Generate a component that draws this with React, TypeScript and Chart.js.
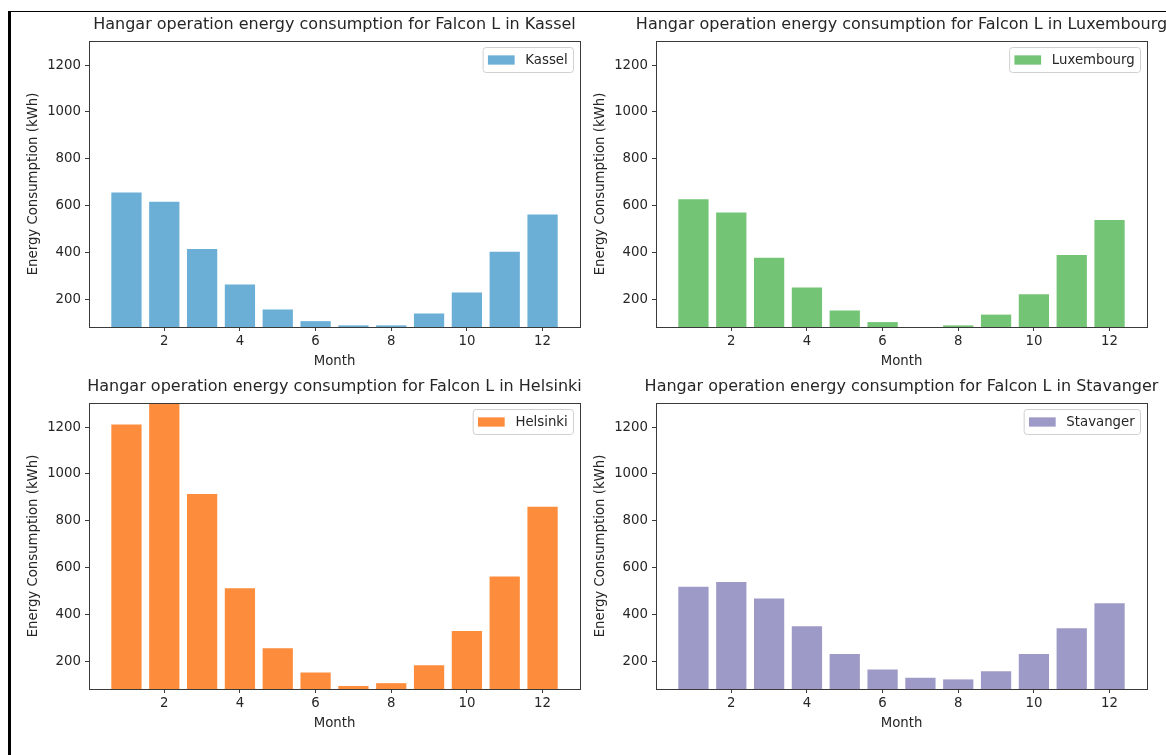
import React, { useEffect, useRef } from "react";
import { Chart, registerables } from "chart.js";

Chart.register(...registerables);

// ---------------- data ----------------
const months = [1, 2, 3, 4, 5, 6, 7, 8, 9, 10, 11, 12];
const kasselValues = [656, 616, 414, 263, 156, 106, 88, 88, 139, 228, 402, 562];
const luxembourgValues = [627, 570, 377, 250, 152, 102, 78, 88, 134, 221, 389, 538];
const helsinkiValues = [1211, 1360, 914, 512, 255, 152, 94, 106, 182, 329, 562, 860];
const stavangerValues = [518, 538, 468, 349, 231, 164, 129, 122, 157, 231, 341, 447];
const xTickValues = [2, 4, 6, 8, 10, 12];
const yTickValues = [200, 400, 600, 800, 1000, 1200];
const titlePrefix = "Hangar operation energy consumption for Falcon L in ";
const xAxisLabel = "Month";
const yAxisLabel = "Energy Consumption (kWh)";

// ---------------- layout / style ----------------
const W = 1166;
const H = 755;
const X_MIN = 0.01;
const X_MAX = 12.99;
const Y_MIN = 81;
const Y_MAX = 1303;
const FONT = '"DejaVu Sans", sans-serif';
const TEXT = "#262626";
const SPINE = "#3a3a3a";
const TICK_SIZE = 13.3;
const TITLE_SIZE = 16;
const Y_AXIS_W = 60;
const X_AXIS_H = 30;

type Area = { left: number; top: number; right: number; bottom: number };
type Panel = { city: string; values: number[]; color: string; area: Area };

const panels: Panel[] = [
  { city: "Kassel", values: kasselValues, color: "#6baed6", area: { left: 89, top: 41, right: 580, bottom: 327 } },
  { city: "Luxembourg", values: luxembourgValues, color: "#74c476", area: { left: 656, top: 41, right: 1147, bottom: 327 } },
  { city: "Helsinki", values: helsinkiValues, color: "#fd8d3c", area: { left: 89, top: 403, right: 580, bottom: 689 } },
  { city: "Stavanger", values: stavangerValues, color: "#9e9ac8", area: { left: 656, top: 403, right: 1147, bottom: 689 } },
];

function makeDecor(panel: Panel) {
  return {
    id: "decor_" + panel.city,
    afterDraw(chart: any) {
      const { ctx, chartArea: a } = chart;
      ctx.save();
      // spines (box)
      ctx.strokeStyle = SPINE;
      ctx.lineWidth = 1;
      ctx.strokeRect(Math.round(a.left) + 0.5, Math.round(a.top) + 0.5, Math.round(a.right - a.left), Math.round(a.bottom - a.top));

      // title
      ctx.fillStyle = TEXT;
      ctx.font = `${TITLE_SIZE}px ${FONT}`;
      ctx.textAlign = "center";
      ctx.textBaseline = "alphabetic";
      ctx.fillText(titlePrefix + panel.city, (a.left + a.right) / 2, a.top - 12.5);

      // x label
      ctx.font = `${TICK_SIZE}px ${FONT}`;
      ctx.fillText(xAxisLabel, (a.left + a.right) / 2, a.bottom + 38);

      // y label
      ctx.save();
      ctx.translate(a.left - 52, (a.top + a.bottom) / 2);
      ctx.rotate(-Math.PI / 2);
      ctx.textAlign = "center";
      ctx.fillText(yAxisLabel, 0, 0);
      ctx.restore();

      // legend
      ctx.font = `${TICK_SIZE}px ${FONT}`;
      const tw = ctx.measureText(panel.city).width;
      const padX = 5.3;
      const handleW = 26.7;
      const handleH = 9.3;
      const gap = 10.7;
      const boxW = padX + handleW + gap + tw + padX;
      const boxH = 25;
      const boxRight = a.right - 7;
      const boxLeft = boxRight - boxW;
      const boxTop = a.top + 6;
      ctx.beginPath();
      ctx.roundRect(boxLeft + 0.5, boxTop + 0.5, boxW, boxH, 3);
      ctx.fillStyle = "rgba(255,255,255,0.8)";
      ctx.fill();
      ctx.strokeStyle = "#d0d0d0";
      ctx.lineWidth = 1;
      ctx.stroke();
      const cy = boxTop + boxH / 2 + 0.5;
      ctx.fillStyle = panel.color;
      ctx.fillRect(boxLeft + padX, cy - handleH / 2, handleW, handleH);
      ctx.fillStyle = TEXT;
      ctx.textAlign = "left";
      ctx.textBaseline = "middle";
      ctx.fillText(panel.city, boxLeft + padX + handleW + gap, cy + 0.5);
      ctx.restore();
    },
  };
}

function ChartPanel({ panel }: { panel: Panel }) {
  const ref = useRef<HTMLCanvasElement>(null);
  useEffect(() => {
    const canvas = ref.current;
    if (!canvas) return;
    const a = panel.area;
    const tickFont = { size: TICK_SIZE, family: FONT };
    const grid = {
      display: true,
      drawOnChartArea: false,
      drawTicks: true,
      tickLength: 4,
      offset: false,
      color: SPINE,
      lineWidth: 1,
    };
    const chart = new Chart(canvas, {
      type: "bar",
      data: {
        datasets: [
          {
            label: panel.city,
            data: months.map((m, i) => ({ x: m, y: panel.values[i] })),
            backgroundColor: panel.color,
            borderWidth: 0,
            barPercentage: 0.8,
            categoryPercentage: 1,
          },
        ],
      },
      options: {
        responsive: false,
        animation: false,
        devicePixelRatio: 1,
        layout: {
          padding: {
            left: a.left - Y_AXIS_W,
            top: a.top,
            right: W - a.right,
            bottom: H - a.bottom - X_AXIS_H,
          },
        },
        plugins: {
          legend: { display: false },
          title: { display: false },
          tooltip: { enabled: false },
        },
        scales: {
          x: {
            type: "linear",
            min: X_MIN,
            max: X_MAX,
            offset: false,
            grid,
            border: { display: false },
            ticks: {
              autoSkip: false,
              maxRotation: 0,
              padding: 3,
              color: TEXT,
              font: tickFont,
              callback: (v: any) => String(v),
            },
            afterBuildTicks: (s: any) => {
              s.ticks = xTickValues.map((v) => ({ value: v }));
            },
            afterFit: (s: any) => {
              s.height = X_AXIS_H;
            },
          },
          y: {
            type: "linear",
            min: Y_MIN,
            max: Y_MAX,
            grid,
            border: { display: false },
            ticks: {
              autoSkip: false,
              padding: 4,
              color: TEXT,
              font: tickFont,
              callback: (v: any) => String(v),
            },
            afterBuildTicks: (s: any) => {
              s.ticks = yTickValues.map((v) => ({ value: v }));
            },
            afterFit: (s: any) => {
              s.width = Y_AXIS_W;
            },
          },
        },
      } as any,
      plugins: [makeDecor(panel)],
    });
    return () => chart.destroy();
  }, [panel]);
  return (
    <canvas
      ref={ref}
      width={W}
      height={H}
      style={{ position: "absolute", left: 0, top: 0, width: W, height: H }}
    />
  );
}

export default function App() {
  return (
    <div
      style={{
        position: "fixed",
        left: 0,
        top: 0,
        width: W,
        height: H,
        background: "#fff",
        overflow: "hidden",
      }}
    >
      <div style={{ position: "absolute", left: 8, top: 11, width: W - 8, height: 1, background: "#000" }} />
      <div style={{ position: "absolute", left: 8, top: 11, width: 3, height: H - 11, background: "#000" }} />
      {panels.map((p) => (
        <ChartPanel key={p.city} panel={p} />
      ))}
    </div>
  );
}
